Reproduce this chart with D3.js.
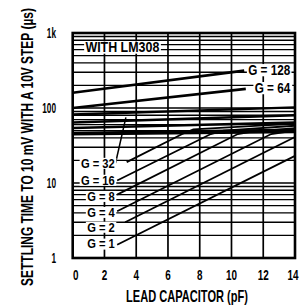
<!DOCTYPE html>
<html><head><meta charset="utf-8">
<script src="https://cdn.jsdelivr.net/npm/d3@7"></script>
<style>
body{margin:0;background:#fff}
text{font-family:'Liberation Sans',Arial,sans-serif;font-weight:bold;fill:#000}
</style>
</head><body>
<svg id="c" width="304" height="307"></svg>
<script>
// ---- data ----
const xTicks = [0, 2, 4, 6, 8, 10, 12, 14];
const yTicks = [1, 10, 100, 1000];
const yTickLabels = ["1", "10", "100", "1k"];
const xTitle = "LEAD CAPACITOR (pF)";
const yTitle = "SETTLING TIME TO 10 mV WITH A 10V STEP (\u00b5s)";
const noteText = "WITH LM308";
// [capacitance pF, settling time µs]
const g1 = [[2.8, 1.5], [14, 23]];
const g2 = [[3.3, 3.0], [14, 41]];
const g4 = [[2.8, 4.2], [12.5, 45], [14, 50]];
const g8 = [[2.8, 7.0], [10.4, 45], [11.2, 48], [14, 54]];
const g16 = [[2.8, 10.8], [8.7, 45], [9.5, 50], [14, 58]];
const g32 = [[3.4, 19], [6.9, 45], [7.6, 52], [14, 62]];
const g64 = [[0, 100], [10.9, 180]];
const g128 = [[0, 160], [10.8, 315]];
const band1 = [[0, 82], [14, 102]];
const band2 = [[0, 64], [14, 80]];
const band3 = [[0, 54], [14, 64]];
const band4 = [[0, 47], [14, 52]];
const band5 = [[0, 44], [14, 47]];
const seriesNames = ["G = 1", "G = 2", "G = 4", "G = 8", "G = 16", "G = 32", "G = 64", "G = 128"];
// label anchors [pF, µs]
const leftLabelAt = [[2.65, 1.55], [2.65, 2.6], [2.65, 4.1], [2.65, 6.7], [2.65, 11.0], [2.65, 18.5]];
const rightLabelAt = [[13.7, 185], [13.7, 321]];
const leader32 = [[2.7, 18.5], [3.35, 75]];

// ---- layout ----
const svg = d3.select("#c");
const L = 72.7, R = 295, T = 33, B = 258;
const x = d3.scaleLinear().domain([0, 14]).range([L, R]);
const y = d3.scaleLog().domain([1, 1000]).range([B, T]);

// text helper: horizontally condensed bold text
function txt(parent, s, px, py, size, anchor, opt) {
  const g = parent.append("g");
  const t = g.append("text").attr("x", 0).attr("y", 0).attr("text-anchor", anchor)
    .attr("dy", opt.dy || 0).style("font-size", size + "px").text(s);
  const len = t.node().getComputedTextLength();
  const sx = opt.width ? opt.width / len : opt.factor;
  g.attr("transform", `translate(${px},${py}) rotate(${opt.rotate || 0}) scale(${sx},1)`);
  if (opt.box) {
    const bb = t.node().getBBox();
    g.insert("rect", "text").attr("x", bb.x - 1.5).attr("y", bb.y + 2)
      .attr("width", bb.width + 3).attr("height", bb.height - 4).attr("fill", "#fff");
  }
  return g;
}

// grid
const minor = [];
for (let d = 1; d < 1000; d *= 10) for (let k = 2; k <= 9; k++) minor.push(k * d);
svg.append("g").selectAll("line").data(minor.concat([10, 100])).join("line")
  .attr("x1", L).attr("x2", R).attr("y1", d => y(d)).attr("y2", d => y(d))
  .attr("stroke", "#000").attr("stroke-width", 1.4);
svg.append("g").selectAll("line").data(xTicks.slice(1, -1)).join("line")
  .attr("y1", T).attr("y2", B).attr("x1", d => x(d)).attr("x2", d => x(d))
  .attr("stroke", "#000").attr("stroke-width", 1.7);

// curves
const line = d3.line().x(d => x(d[0])).y(d => y(d[1]));
svg.append("g").selectAll("path").data([g1, g2, g4, g8, g16, g32]).join("path")
  .attr("d", line).attr("fill", "none").attr("stroke", "#000").attr("stroke-width", 1.8);
svg.append("g").selectAll("path").data([band1, band2, band3]).join("path")
  .attr("d", line).attr("fill", "none").attr("stroke", "#000").attr("stroke-width", 2.4);
svg.append("path").attr("d", d3.area().x(d => x(d[0])).y0((d, i) => y(band5[i][1])).y1(d => y(d[1]))(band4))
  .attr("fill", "#000").attr("stroke", "#000").attr("stroke-width", 1.5);
svg.append("g").selectAll("path").data([g64, g128]).join("path")
  .attr("d", line).attr("fill", "none").attr("stroke", "#000").attr("stroke-width", 2.6);
svg.append("path").attr("d", line(leader32)).attr("fill", "none").attr("stroke", "#000").attr("stroke-width", 1.5);

// in-plot labels
leftLabelAt.forEach((p, i) => txt(svg, seriesNames[i], x(p[0]), y(p[1]), 13, "end", {factor: 0.86, dy: "0.36em", box: true}));
rightLabelAt.forEach((p, i) => txt(svg, seriesNames[6 + i], x(p[0]), y(p[1]), 14, "end", {factor: 0.84, dy: "0.36em", box: true}));
txt(svg, noteText, x(0.8), y(650), 15, "start", {factor: 0.83, dy: "0.36em", box: true});

// frame
svg.append("rect").attr("x", L).attr("y", T).attr("width", R - L).attr("height", B - T)
  .attr("fill", "none").attr("stroke", "#000").attr("stroke-width", 2.6);

// axes text
xTicks.forEach(d => txt(svg, String(d), x(d) + (d === 0 ? 3 : d === 14 ? -2 : 0), 280, 15, "middle", {factor: 0.66}));
yTicks.forEach((d, i) => txt(svg, yTickLabels[i], 56, y(d), 15, "end", {factor: 0.55, dy: "0.36em"}));
txt(svg, xTitle, 187, 302, 16, "middle", {width: 122});
txt(svg, yTitle, 33, 147, 17, "middle", {width: 278, rotate: -90});
</script>
</body></html>
